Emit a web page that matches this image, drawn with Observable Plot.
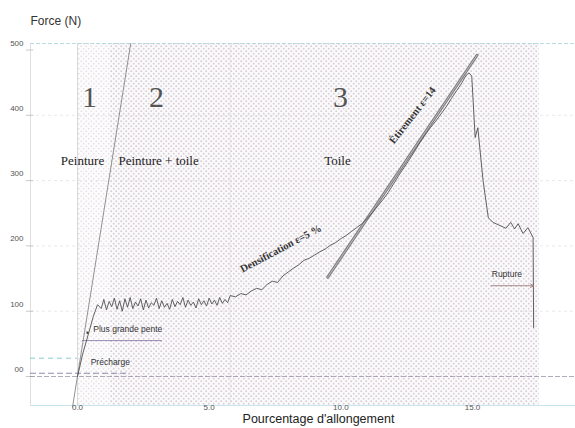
<!DOCTYPE html>
<html>
<head>
<meta charset="utf-8">
<script src="https://cdn.jsdelivr.net/npm/d3@7"></script>
<script src="https://cdn.jsdelivr.net/npm/@observablehq/plot@0.6"></script>
<style>
  html, body { margin: 0; padding: 0; background: #fff; }
  svg { display: block; }
</style>
</head>
<body>
<div id="chart"></div>
<script>
// ---- data ----
const strain = [0, 0.2, 0.42, 0.6, 0.76,
  0.9,1.0,1.1,1.2,1.3,1.4,1.5,1.6,1.7,1.8,1.9,2.0,2.1,2.2,2.3,2.4,2.5,2.6,2.7,2.8,
  2.9,3.0,3.1,3.2,3.3,3.4,3.5,3.6,3.7,3.8,3.9,4.0,4.1,4.2,4.3,4.4,4.5,4.6,4.7,4.8,
  4.9,5.0,5.1,5.2,5.3,5.4,5.5,5.6,5.7,5.8,
  6.0,6.2,6.4,6.6,6.8,7.0,7.2,7.4,7.6,7.8,8.0,8.2,8.4,8.6,8.8,9.0,9.2,9.4,9.6,9.8,
  10.0,10.2,10.4,10.6,10.8,11.0,11.2,11.4,11.6,11.8,12.0,12.2,12.4,12.6,12.8,13.0,
  13.2,13.4,13.6,13.8,14.0,14.2,14.4,14.6,14.75,14.87,14.97,15.1,15.2,15.4,15.6,
  15.78,16.0,16.27,16.45,16.6,16.73,16.92,17.1,17.3,17.32];
const force = [0, 35, 66, 92, 110,
  104,118,102,115,107,120,103,116,100,119,
  106,121,104,114,108,119,102,117,105,113,
  109,120,104,116,106,112,103,118,107,115,
  110,121,106,117,109,114,105,119,110,116,
  108,120,111,117,109,121,112,118,113,124,
  122,127,125,131,135,133,141,146,144,154,
  160,166,171,178,181,186,191,195,201,205,
  211,216,222,228,234,242,251,261,271,282,
  295,308,320,332,345,358,370,381,391,402,
  413,426,438,450,
  461,465,460,366,381,300,243,236,232,227,236,226,234,219,228,213,75];

const yTicks = [0, 100, 200, 300, 400, 500];
const yTickLabels = ["00", "100", "200", "300", "400", "500"];
const xTicks = [0, 5, 10, 15];
const xTickLabels = ["0.0", "5.0", "10.0", "15.0"];

const regionNumbers = ["1", "2", "3"];
const regionNumberX = [0.46, 3.0, 9.99];
const regionNames = ["Peinture", "Peinture + toile", "Toile"];
const regionNameX = [0.19, 3.08, 9.87];

const steepX = [-0.19, 2.02];          // "Plus grande pente" line
const steepY = [-47, 510];
const stretchX = [9.5, 15.17];         // étirement line
const stretchY = [152, 492];
const penteLevel = 55, penteFrom = 0.19, penteTo = 3.23;
const prechargeLevel = 28;
const lowLevel = 5, lowTo = 2.0;
const ruptureLevel = 139, ruptureFrom = 15.7, ruptureTo = 17.32;
const shadeLight = [0, 1.25];
const shadeDense = [1.25, 17.53];

const xMin = -1.785, xMax = 18.91, yMin = -44.4, yMax = 510;

const curve = strain.map((s, i) => ({s, f: force[i]}));

const serif = "Liberation Serif, Times New Roman, serif";

const svg = Plot.plot({
  width: 575,
  height: 428,
  marginLeft: 30,
  marginRight: 0,
  marginTop: 43,
  marginBottom: 23,
  style: {fontFamily: "Liberation Sans, Arial, sans-serif", background: "#fff", overflow: "visible"},
  x: {domain: [xMin, xMax], axis: null},
  y: {domain: [yMin, yMax], axis: null},
  marks: [
    // shaded (dotted) zones
    Plot.rect([{a: shadeLight[0], b: shadeLight[1]}], {x1: "a", x2: "b", y1: yMin, y2: yMax, fill: "#f5f3f5", className: "shade-light"}),
    Plot.rect([{a: shadeDense[0], b: shadeDense[1]}], {x1: "a", x2: "b", y1: yMin, y2: yMax, fill: "#efebef", className: "shade-dense"}),
    // grid lines
    Plot.ruleY([100, 200, 300, 400], {x1: xMin, x2: xMax, stroke: "#ddd8dd", strokeWidth: 0.6, strokeDasharray: "3,3"}),
    Plot.ruleX([5.8], {y1: yMin, y2: yMax, stroke: "#e8e3e8", strokeWidth: 1}),
    // frame lines
    Plot.ruleY([yMax], {x1: xMin, x2: xMax, stroke: "#a9d3de", strokeWidth: 0.8, strokeDasharray: "4,2"}),
    Plot.ruleY([yMin], {x1: xMin, x2: xMax, stroke: "#c8e4ec", strokeWidth: 1.2}),
    Plot.ruleX([xMin], {y1: yMin, y2: yMax, stroke: "#d6d6d6", strokeWidth: 0.8}),
    Plot.ruleX([0], {y1: yMin, y2: yMax, stroke: "#cfcfcf", strokeWidth: 0.8}),
    // y tick marks and labels
    Plot.ruleY(yTicks, {x1: -1.94, x2: -1.66, stroke: "#bbb", strokeWidth: 0.8}),
    Plot.text(yTicks, {y: d => d, text: (d, i) => yTickLabels[i], frameAnchor: "left", dx: -7, dy: -7, textAnchor: "end", fontSize: 8, fill: "#555"}),
    // x tick labels
    Plot.text(xTicks, {x: d => d, text: (d, i) => xTickLabels[i], frameAnchor: "bottom", dy: 4, fontSize: 8, fill: "#555"}),
    // axis titles
    Plot.text(["Pourcentage d'allongement"], {x: 9.15, frameAnchor: "bottom", dy: 17, fontSize: 12.5, fill: "#222"}),
    Plot.text(["Force (N)"], {frameAnchor: "top-left", dy: -27, textAnchor: "start", fontSize: 12, fill: "#333"}),
    // baseline and preload lines
    Plot.ruleY([0], {x1: xMin, x2: xMax, stroke: "#8f86a0", strokeWidth: 0.7, strokeDasharray: "5,2"}),
    Plot.ruleY([prechargeLevel], {x1: xMin, x2: 0, stroke: "#7fc4cc", strokeWidth: 0.9, strokeDasharray: "5,4"}),
    Plot.ruleY([lowLevel], {x1: xMin, x2: lowTo, stroke: "#6f6f9a", strokeWidth: 0.8, strokeDasharray: "6,3"}),
    Plot.ruleY([penteLevel], {x1: penteFrom, x2: penteTo, stroke: "#8b7fa8", strokeWidth: 0.9}),
    // steepest slope line
    Plot.line(steepX.map((x, i) => ({x, y: steepY[i]})), {x: "x", y: "y", stroke: "#777", strokeWidth: 0.8}),
    // stretching line (double line look)
    Plot.line(stretchX.map((x, i) => ({x, y: stretchY[i]})), {x: "x", y: "y", stroke: "#808080", strokeWidth: 3}),
    Plot.line(stretchX.map((x, i) => ({x, y: stretchY[i]})), {x: "x", y: "y", stroke: "#c8c8c8", strokeWidth: 0.8}),
    // measured curve
    Plot.line(curve, {x: "s", y: "f", stroke: "#505050", strokeWidth: 0.9}),
    Plot.dot([{x: 0.38, y: 67}], {x: "x", y: "y", r: 1.2, fill: "#444", stroke: null}),
    // rupture arrow
    Plot.arrow([{x1: ruptureFrom, x2: ruptureTo, y: ruptureLevel}], {x1: "x1", x2: "x2", y1: "y", y2: "y", stroke: "#a07c7c", strokeWidth: 0.9, headLength: 6, bend: 0}),
    Plot.text(["Rupture"], {x: 15.73, y: 157, textAnchor: "start", fontSize: 8.5, fill: "#333"}),
    // annotations
    Plot.text(["Plus grande pente"], {x: 0.6, y: 73, textAnchor: "start", fontSize: 8.5, fill: "#333"}),
    Plot.text(["Précharge"], {x: 0.5, y: 22, textAnchor: "start", fontSize: 8.5, fill: "#333"}),
    Plot.text(regionNumbers, {x: (d, i) => regionNumberX[i], y: 427, fontSize: 30, fontFamily: serif, fill: "#555"}),
    Plot.text(regionNames, {x: (d, i) => regionNameX[i], y: 331, fontSize: 13, fontFamily: serif, fill: "#222"}),
    Plot.text(["Densification ε=5 %"], {x: 7.72, y: 196, rotate: -28, fontSize: 10.5, fontWeight: "bold", fontFamily: serif, fill: "#333"}),
    Plot.text(["Étirement ε=14"], {x: 12.72, y: 400, rotate: -52, fontSize: 10.5, fontWeight: "bold", fontFamily: serif, fill: "#333"})
  ]
});

// dotted halftone patterns for the shaded zones
const defs = document.createElementNS("http://www.w3.org/2000/svg", "defs");
defs.innerHTML = `
<pattern id="dotsDense" width="5" height="5" patternUnits="userSpaceOnUse">
  <rect width="5" height="5" fill="#fbfafb"/>
  <circle cx="1.2" cy="1.2" r="0.9" fill="#d6cbd6"/>
  <circle cx="3.7" cy="3.7" r="0.9" fill="#d6cbd6"/>
</pattern>
<pattern id="dotsLight" width="5" height="5" patternUnits="userSpaceOnUse">
  <rect width="5" height="5" fill="#fdfcfd"/>
  <circle cx="1.2" cy="1.2" r="0.75" fill="#e0d8e0"/>
  <circle cx="3.7" cy="3.7" r="0.75" fill="#e0d8e0"/>
</pattern>`;
svg.insertBefore(defs, svg.firstChild);
svg.querySelectorAll(".shade-dense, .shade-dense rect").forEach(el => el.setAttribute("fill", "url(#dotsDense)"));
svg.querySelectorAll(".shade-light, .shade-light rect").forEach(el => el.setAttribute("fill", "url(#dotsLight)"));

document.getElementById("chart").appendChild(svg);
</script>
</body>
</html>
